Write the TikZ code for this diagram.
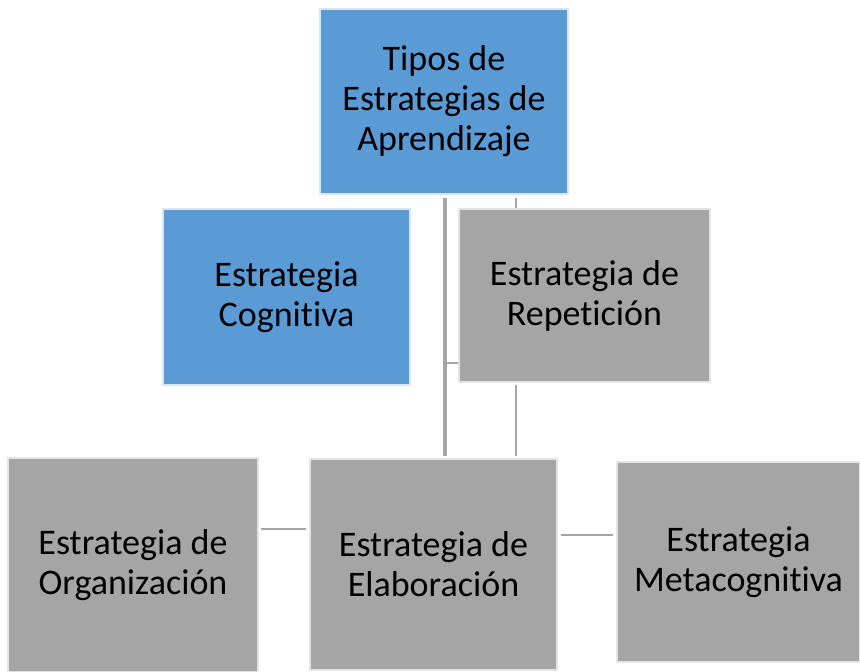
\documentclass[tikz,border=0pt]{standalone}
\usepackage{fontspec}
\setmainfont[Ligatures=NoCommon,RawFeature={-liga;-dlig;-clig}]{Carlito}
\definecolor{bluefill}{HTML}{5B9BD5}
\definecolor{grayfill}{HTML}{A5A5A5}
\definecolor{conn}{HTML}{A5A5A5}
\begin{document}
\begin{tikzpicture}[x=1pt,y=-1pt,
  boxbase/.style={rectangle, align=center, inner sep=0pt, line width=1.5pt,
    font=\fontsize{36}{40}\selectfont, text=black},
  bluebox/.style={boxbase, fill=bluefill, draw=bluefill!25!white},
  graybox/.style={boxbase, fill=grayfill, draw=grayfill!30!white},
  thickconn/.style={draw=conn, line width=4pt},
  thinconn/.style={draw=conn, line width=2.5pt}]
\useasboundingbox (0,0) rectangle (860,672);
\fill[white] (0,0) rectangle (860,672);

\node[bluebox, minimum width=248pt, minimum height=185pt] (top) at (444,101.5)
  {Tipos de\\Estrategias de\\Aprendizaje};
\node[bluebox, minimum width=247pt, minimum height=176pt] (cog) at (286.5,297)
  {Estrategia\\Cognitiva};
\node[graybox, minimum width=251pt, minimum height=173pt] (rep) at (584.5,295.5)
  {Estrategia de\\Repetición};
\node[graybox, minimum width=250pt, minimum height=214pt] (org) at (133,565)
  {Estrategia de\\Organización};
\node[graybox, minimum width=247pt, minimum height=211pt] (elab) at (433.5,564.5)
  {Estrategia de\\Elaboración};
\node[graybox, minimum width=243pt, minimum height=200pt] (meta) at (738.5,562)
  {Estrategia\\Metacognitiva};

\coordinate (tx) at (445,0);
\coordinate (rx) at (516,0);
\coordinate (sy) at (0,363);
\coordinate (oy) at (0,529);
\coordinate (my) at (0,535);

\draw[thickconn, shorten <=3pt, shorten >=2pt] (top.south -| tx) -- (elab.north -| tx);
\draw[thinconn] (tx |- sy) -- (rep.west |- sy);
\draw[thinconn, shorten <=3pt] (top.south -| rx) -- (rep.north -| rx);
\draw[thinconn, shorten <=2pt, shorten >=2pt] (rep.south -| rx) -- (elab.north -| rx);
\draw[thinconn, shorten <=2pt, shorten >=3pt] (org.east |- oy) -- (elab.west |- oy);
\draw[thinconn, shorten <=3pt, shorten >=3pt] (elab.east |- my) -- (meta.west |- my);
\end{tikzpicture}
\end{document}
